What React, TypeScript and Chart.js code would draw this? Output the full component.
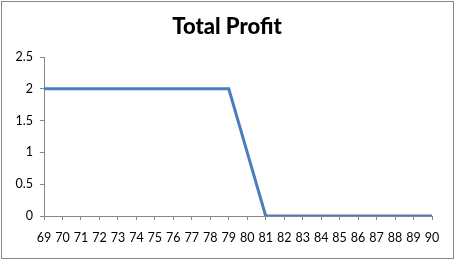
import React, { useEffect, useRef } from "react";
import { Chart, registerables } from "chart.js";

Chart.register(...registerables);

const categories = ["69","70","71","72","73","74","75","76","77","78","79","80","81","82","83","84","85","86","87","88","89","90"];
const profit = [2,2,2,2,2,2,2,2,2,2,2,1,0,0,0,0,0,0,0,0,0,0];
const chartTitle = "Total Profit";

const borderPlugin = {
  id: "outerBorder",
  beforeDraw(chart: any) {
    const ctx = chart.ctx;
    ctx.save();
    ctx.fillStyle = "#ffffff";
    ctx.fillRect(0, 0, chart.width, chart.height);
    ctx.strokeStyle = "#868686";
    ctx.lineWidth = 1;
    ctx.strokeRect(1.5, 1.5, chart.width - 4, chart.height - 4);
    ctx.restore();
  },
};

const titlePlugin = {
  id: "centerTitle",
  afterDraw(chart: any) {
    const ctx = chart.ctx;
    ctx.save();
    ctx.fillStyle = "#000000";
    ctx.font = "900 22px Lato";
    ctx.textAlign = "center";
    ctx.textBaseline = "middle";
    ctx.fillText(chartTitle, chart.width / 2 - 1, 27);
    ctx.restore();
  },
};

export default function App() {
  const ref = useRef<HTMLCanvasElement | null>(null);
  useEffect(() => {
    if (!ref.current) return;
    const chart = new Chart(ref.current, {
      type: "line",
      data: {
        labels: categories,
        datasets: [
          {
            data: profit,
            borderColor: "#4A7EBB",
            borderWidth: 3,
            pointRadius: 0,
            tension: 0,
            fill: false,
          },
        ],
      },
      options: {
        animation: false,
        responsive: false,
        maintainAspectRatio: false,
        layout: { padding: { left: 0, right: 24, top: 57, bottom: 0 } },
        plugins: {
          legend: { display: false },
          tooltip: { enabled: false },
          title: { display: false },
        },
        scales: {
          x: {
            type: "category",
            offset: false,
            afterFit(scale: any) { scale.height = 45; },
            grid: {
              display: true,
              drawOnChartArea: false,
              drawTicks: true,
              tickLength: 4,
              color: "#868686",
            },
            border: { display: true, color: "#868686", width: 1 },
            ticks: {
              color: "#000000",
              font: { family: "Lato", size: 12.5 },
              padding: 10,
              maxRotation: 0,
              autoSkip: false,
            },
          },
          y: {
            min: 0,
            max: 2.5,
            afterFit(scale: any) { scale.width = 44; },
            grid: {
              display: true,
              drawOnChartArea: false,
              drawTicks: true,
              tickLength: 4,
              color: "#868686",
            },
            border: { display: true, color: "#868686", width: 1 },
            ticks: {
              stepSize: 0.5,
              color: "#000000",
              font: { family: "Lato", size: 12.5 },
              padding: 7,
              callback: (v: any) => String(Number(v)),
            },
          },
        },
      },
      plugins: [borderPlugin, titlePlugin],
    });
    return () => chart.destroy();
  }, []);
  return (
    <div style={{ position: "fixed", left: 0, top: 0, width: 456, height: 261 }}>
      <canvas ref={ref} width={456} height={261} style={{ display: "block" }} />
    </div>
  );
}
